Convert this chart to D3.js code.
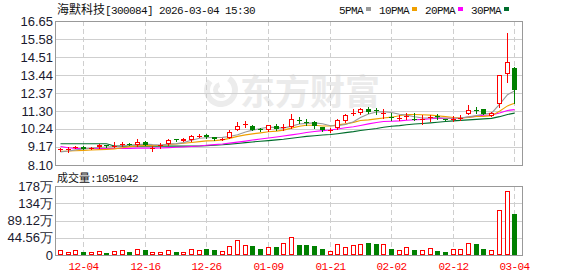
<!DOCTYPE html>
<html><head><meta charset="utf-8">
<script src="https://cdn.jsdelivr.net/npm/d3@7"></script>
<style>html,body{margin:0;padding:0;background:#fff;overflow:hidden}</style>
</head><body><svg id="c" width="578" height="276"></svg>
<script>
const title = "海默科技[300084] 2026-03-04 15:30";
const dates = ["12-01","12-02","12-03","12-04","12-05","12-08","12-09","12-10","12-11","12-12","12-15","12-16","12-17","12-18","12-19","12-22","12-23","12-24","12-25","12-26","12-29","12-30","12-31",
"01-05","01-06","01-07","01-08","01-09","01-12","01-13","01-14","01-15","01-16","01-19","01-20","01-21","01-22","01-23","01-26","01-27","01-28","01-29","01-30",
"02-02","02-03","02-04","02-05","02-06","02-09","02-10","02-11","02-12","02-13","02-24","02-25","02-26","02-27","03-02","03-03","03-04"];
const open  = [8.98,9.04,9.10,9.14,9.08,9.15,9.26,9.22,9.26,9.36,9.29,9.46,9.08,9.22,9.33,9.62,9.55,9.58,9.82,9.88,9.74,9.64,9.72,10.20,10.48,10.42,10.22,10.15,10.42,10.34,10.34,10.80,10.66,10.65,10.35,10.16,10.28,10.72,11.15,11.17,11.45,11.36,11.14,10.95,10.86,10.95,10.86,10.82,10.90,10.98,10.83,10.78,10.86,11.12,11.38,11.40,11.03,11.70,13.48,13.88];
const high  = [9.10,9.15,9.20,9.22,9.16,9.32,9.30,9.44,9.48,9.40,9.62,9.50,9.23,9.40,9.62,9.66,9.70,9.90,9.92,9.92,9.78,9.70,10.18,10.66,10.70,10.46,10.30,10.50,10.55,10.53,11.10,10.95,10.85,10.72,10.38,10.28,10.85,11.12,11.45,11.50,11.55,11.50,11.40,11.20,11.05,11.20,11.17,11.07,11.07,11.10,10.85,11.00,11.08,11.65,11.52,11.44,11.25,13.44,15.95,13.90];
const low   = [8.95,8.90,9.08,9.04,9.05,9.12,9.18,9.18,9.24,9.26,9.22,9.26,8.96,9.12,9.30,9.52,9.52,9.54,9.78,9.70,9.60,9.58,9.68,10.18,10.38,10.16,10.12,10.12,10.18,10.18,10.28,10.60,10.50,10.30,10.12,10.06,10.22,10.68,11.08,11.10,11.20,11.10,10.90,10.80,10.80,10.82,10.77,10.53,10.72,10.85,10.75,10.72,10.78,11.10,11.20,11.10,10.98,11.55,13.05,11.80];
const close = [9.06,9.06,9.18,9.07,9.12,9.28,9.22,9.24,9.36,9.32,9.48,9.30,9.11,9.26,9.58,9.58,9.62,9.82,9.85,9.74,9.63,9.66,10.06,10.42,10.52,10.20,10.16,10.45,10.25,10.37,10.81,10.77,10.64,10.40,10.15,10.18,10.77,11.07,11.17,11.40,11.25,11.34,11.17,10.93,10.88,10.98,10.83,10.84,10.97,10.96,10.78,10.84,10.88,11.35,11.36,11.13,11.20,13.44,14.20,12.55];
// volume in 万
const volume = [12.9,7.7,12.0,7.7,7.7,10.3,5.2,10.3,12.0,8.6,14.6,12.9,7.7,7.7,13.8,7.7,7.7,14.6,13.3,15.5,12.9,9.5,22.4,38.7,25.0,23.2,15.5,20.6,20.6,31.0,45.6,25.8,25.8,23.2,15.5,9.5,28.4,20.6,25.8,28.4,31.0,28.4,28.4,15.5,12.9,19.8,12.9,12.9,17.2,10.3,7.7,14.6,14.6,30.1,28.4,15.5,12.9,116.0,165.0,105.1042];
const ma5  = [8.88,8.93,9.00,9.05,9.10,9.14,9.17,9.19,9.24,9.28,9.32,9.34,9.31,9.29,9.35,9.37,9.43,9.57,9.69,9.72,9.73,9.74,9.79,9.90,10.06,10.17,10.27,10.35,10.32,10.29,10.41,10.53,10.57,10.60,10.55,10.43,10.43,10.51,10.67,10.92,11.13,11.25,11.27,11.22,11.11,11.06,10.96,10.89,10.90,10.92,10.88,10.88,10.89,10.96,11.04,11.11,11.18,11.70,12.27,12.50];
const ma10 = [8.92,8.93,8.95,8.97,8.99,9.01,9.03,9.06,9.12,9.19,9.23,9.26,9.25,9.27,9.32,9.35,9.39,9.44,9.49,9.53,9.55,9.59,9.68,9.80,9.89,9.95,10.01,10.07,10.11,10.17,10.29,10.40,10.46,10.46,10.42,10.42,10.48,10.54,10.63,10.74,10.78,10.84,10.89,10.94,11.02,11.10,11.10,11.08,11.06,11.02,10.97,10.92,10.89,10.93,10.98,10.99,11.03,11.29,11.61,11.77];
const ma20 = [9.20,9.12,9.09,9.08,9.08,9.08,9.08,9.08,9.09,9.09,9.10,9.10,9.10,9.11,9.13,9.15,9.17,9.20,9.23,9.27,9.31,9.35,9.40,9.46,9.52,9.58,9.64,9.70,9.76,9.82,9.89,9.96,10.03,10.09,10.14,10.18,10.24,10.31,10.37,10.45,10.54,10.62,10.68,10.70,10.72,10.76,10.79,10.81,10.85,10.88,10.87,10.88,10.89,10.94,11.00,11.05,11.07,11.19,11.34,11.39];
const ma30 = [9.36,9.36,9.36,9.36,9.36,9.36,9.36,9.23,9.22,9.22,9.22,9.22,9.22,9.22,9.22,9.22,9.22,9.22,9.23,9.25,9.27,9.30,9.34,9.38,9.43,9.47,9.51,9.55,9.59,9.63,9.69,9.75,9.80,9.84,9.88,9.91,9.96,10.02,10.08,10.15,10.21,10.27,10.34,10.40,10.44,10.49,10.53,10.56,10.60,10.64,10.68,10.72,10.75,10.78,10.81,10.84,10.87,10.97,11.10,11.18];
const priceTicks = [8.10,9.17,10.24,11.30,12.37,13.44,14.51,15.58,16.65];
const priceTickLabels = ["8.10","9.17","10.24","11.30","12.37","13.44","14.51","15.58","16.65"];
const volTicks = [0,44.56,89.12,133.68,178.24];
const volTickLabels = ["0","44.56万","89.12万","134万","178万"];
const dateTicks = ["12-04","12-16","12-26","01-09","01-21","02-02","02-12","03-04"];
const legendNames = ["5PMA","10PMA","20PMA","30PMA"];
const currentVolLabel = "成交量:1051042";

const RED = "#ff0000", GREEN = "#008000";
const maColors = ["#999999","#f0a000","#ff00ff","#006d2c"];
const svg = d3.select("#c");
const L = 55, R = 522, PT = 21, PB = 165, VT = 186, VB = 255;

const x = d3.scalePoint().domain(dates).range([60, 514.3]);
const y = d3.scaleLinear().domain([8.10, 16.65]).range([PB, PT]);
const yv = d3.scaleLinear().domain([0, 178.24]).range([VB, VT]);
const cx = d => Math.round(x(d));
const monoFont = "'Liberation Mono','DejaVu Sans Mono',monospace";
const cjkFont = "'Noto Sans CJK SC','Noto Sans',sans-serif";

// Watermark
const wm = svg.append("g");
wm.append("path").attr("d", d3.arc()({innerRadius: 11, outerRadius: 17, startAngle: 0.6, endAngle: 5.4}))
  .attr("transform", "translate(221,90)").attr("fill", "#ececec");
wm.append("path").attr("d", d3.arc()({innerRadius: 3, outerRadius: 8, startAngle: 2.5, endAngle: 6.0}))
  .attr("transform", "translate(221,90)").attr("fill", "#ececec");
svg.append("text").attr("x", 240).attr("y", 105).text("东方财富")
  .attr("font-family", cjkFont).attr("font-weight", "bold").attr("font-size", 35)
  .attr("fill", "#ebebeb");

// Grids
function grid(top, bottom, scale, ticks) {
  const g = svg.append("g").attr("shape-rendering", "crispEdges");
  g.selectAll(".h").data(ticks).join("line")
    .attr("x1", L).attr("x2", R)
    .attr("y1", d => Math.round(scale(d)) + 0.5).attr("y2", d => Math.round(scale(d)) + 0.5)
    .attr("stroke", "#cfcfcf");
  g.selectAll(".v").data(dateTicks).join("line")
    .attr("x1", d => cx(d) + 0.5).attr("x2", d => cx(d) + 0.5)
    .attr("y1", top).attr("y2", bottom)
    .attr("stroke", "#cfcfcf").attr("stroke-dasharray", "5,3");
  g.append("rect").attr("x", L + 0.5).attr("y", top + 0.5)
    .attr("width", R - L).attr("height", bottom - top)
    .attr("fill", "none").attr("stroke", "#999");
}
grid(PT, PB, y, priceTicks);
grid(VT, VB, yv, volTicks);

// MA lines
[ma30, ma20, ma10, ma5].forEach((arr, k) => {
  const col = maColors[3 - k];
  svg.append("path").datum(arr)
    .attr("d", d3.line().x((d, i) => cx(dates[i]) + 0.5).y(d => y(d)))
    .attr("fill", "none").attr("stroke", col).attr("stroke-width", 1.1);
});

// Candles
const cg = svg.append("g").attr("shape-rendering", "crispEdges");
dates.forEach((d, i) => {
  const up = close[i] >= open[i];
  const c = cx(d);
  const col = up ? RED : GREEN;
  cg.append("line").attr("x1", c + 0.5).attr("x2", c + 0.5)
    .attr("y1", Math.round(y(high[i]))).attr("y2", Math.round(y(low[i])) + 1)
    .attr("stroke", col);
  const yt = Math.round(y(Math.max(open[i], close[i])));
  const yb = Math.round(y(Math.min(open[i], close[i])));
  const h = Math.max(1, yb - yt);
  if (up) {
    if (h <= 1) {
      cg.append("rect").attr("x", c - 2).attr("y", yt).attr("width", 5).attr("height", 1).attr("fill", col);
    } else {
      cg.append("rect").attr("x", c - 1.5).attr("y", yt + 0.5).attr("width", 4).attr("height", h - 1)
        .attr("fill", "#fff").attr("stroke", col);
    }
  } else {
    cg.append("rect").attr("x", c - 2).attr("y", yt).attr("width", 5).attr("height", h).attr("fill", col);
  }
  // volume
  const vt = Math.round(yv(volume[i]));
  if (up) {
    cg.append("rect").attr("x", c - 1.5).attr("y", vt + 0.5).attr("width", 4).attr("height", Math.max(1, VB - vt - 1))
      .attr("fill", "#fff").attr("stroke", RED);
  } else {
    cg.append("rect").attr("x", c - 2).attr("y", vt).attr("width", 5).attr("height", VB - vt).attr("fill", GREEN);
  }
});

// Axis labels
const axFont = "'Liberation Sans',Arial,sans-serif";
svg.append("g").selectAll("text").data(priceTicks).join("text")
  .attr("x", 53).attr("y", d => y(d) + 4.5).attr("text-anchor", "end")
  .attr("font-family", axFont).attr("font-size", 13).attr("fill", "#1a1a2e")
  .text((d, i) => priceTickLabels[i]);
svg.append("g").selectAll("text").data(volTicks).join("text")
  .attr("x", 53).attr("y", d => yv(d) + 4.5).attr("text-anchor", "end")
  .attr("font-family", axFont).attr("font-size", 13).attr("fill", "#1a1a2e")
  .text((d, i) => volTickLabels[i]);
svg.append("g").selectAll("text").data(dateTicks).join("text")
  .attr("x", d => cx(d) + 0.5).attr("y", 270).attr("text-anchor", "middle")
  .attr("font-family", monoFont).attr("font-size", 11).attr("letter-spacing", -0.6)
  .attr("fill", RED).text(d => d);

// Title
const t = svg.append("text").attr("x", 57).attr("y", 14).attr("fill", "#111");
const cut = title.indexOf("[");
t.append("tspan").attr("font-family", cjkFont).attr("font-size", 12).text(title.slice(0, cut));
t.append("tspan").attr("font-family", monoFont).attr("font-size", 11).attr("letter-spacing", -0.6).text(title.slice(cut));

// Legend
let lx = 339;
legendNames.forEach((n, k) => {
  svg.append("text").attr("x", lx).attr("y", 14).attr("fill", "#111")
    .attr("font-family", monoFont).attr("font-size", 11).attr("letter-spacing", -0.6).text(n);
  const w = n.length * 6;
  svg.append("rect").attr("x", lx + w + 3).attr("y", 7).attr("width", 5).attr("height", 4).attr("fill", maColors[k]);
  lx += w + 3 + 5 + 8;
});

// Current volume label
const vtxt = svg.append("text").attr("x", 57).attr("y", 182).attr("fill", "#111");
const vc = currentVolLabel.indexOf(":");
vtxt.append("tspan").attr("font-family", cjkFont).attr("font-size", 11).text(currentVolLabel.slice(0, vc));
vtxt.append("tspan").attr("font-family", monoFont).attr("font-size", 11).attr("letter-spacing", -0.6).text(currentVolLabel.slice(vc));
</script></body></html>
